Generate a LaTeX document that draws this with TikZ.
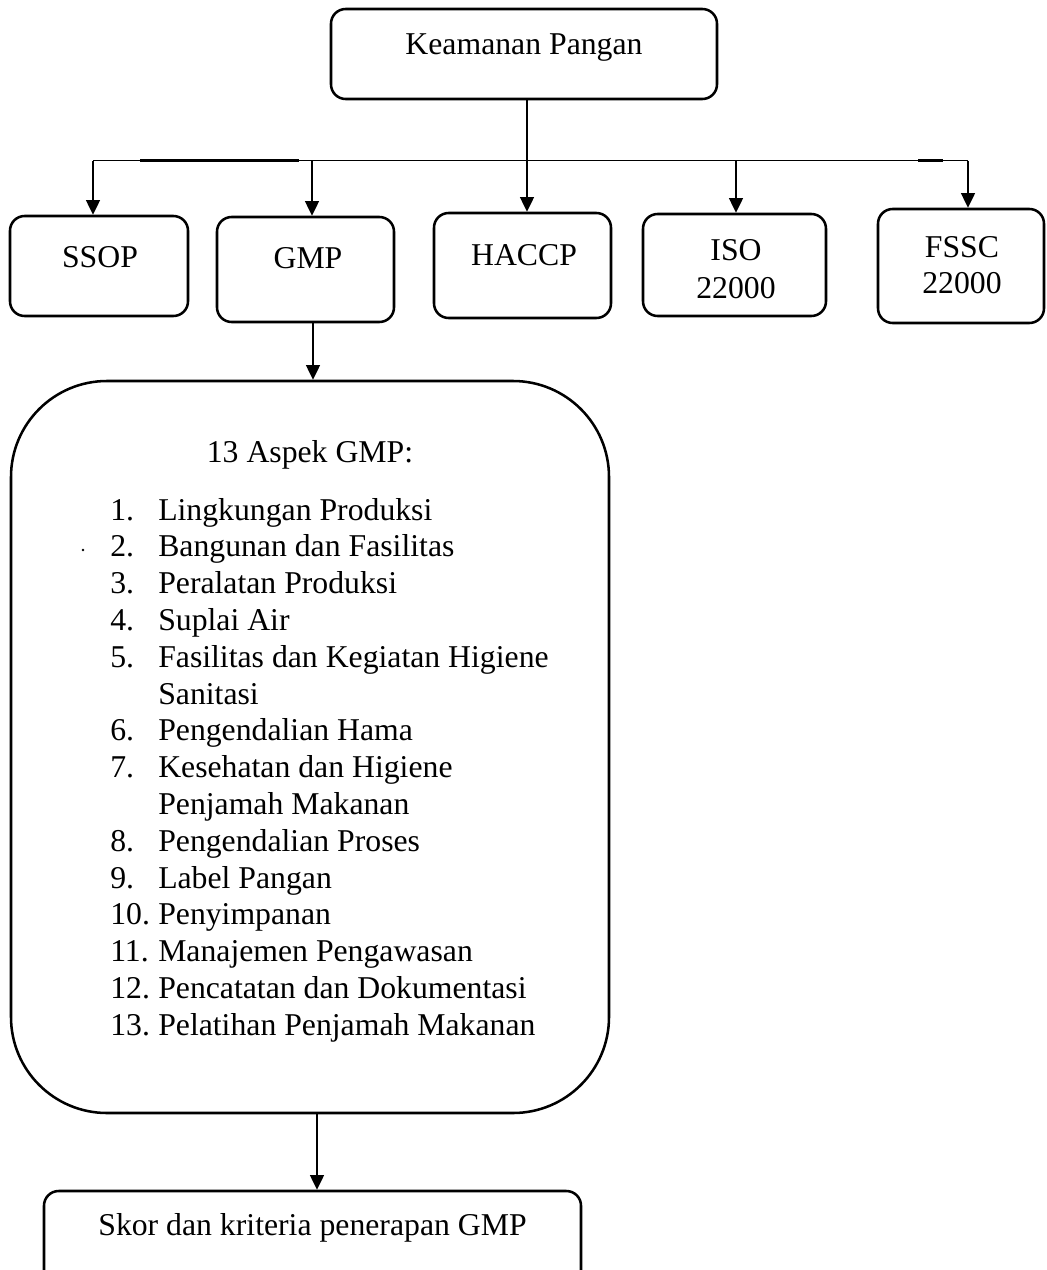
\documentclass[tikz,border=0pt]{standalone}
\usepackage{fontspec}
\setmainfont{Liberation Serif}
\usetikzlibrary{arrows.meta}
\begin{document}
\begin{tikzpicture}[x=0.75pt,y=-0.75pt,
  box/.style={draw, line width=1.9pt, rounded corners=11pt, inner sep=0pt},
  lbl/.style={inner sep=0pt, font=\fontsize{23.8}{26}\selectfont},
  conn/.style={line width=1.05pt},
  arr/.style={conn, -{Triangle[length=11pt,width=10.5pt]}}]
\useasboundingbox (0,0) rectangle (1046,1270);

% boxes
\node[box, minimum width=289.5pt, minimum height=67.5pt] (top) at (524,54) {};
\node[box, minimum width=133.5pt, minimum height=75pt] (ssop) at (99,266) {};
\node[box, minimum width=132.75pt, minimum height=78.75pt] (gmp) at (305.5,269.5) {};
\node[box, minimum width=132.75pt, minimum height=78.75pt] (haccp) at (522.5,265.5) {};
\node[box, minimum width=137.25pt, minimum height=76.5pt] (iso) at (734.5,265) {};
\node[box, minimum width=124.5pt, minimum height=85.5pt] (fssc) at (961,266) {};
\node[box, rounded corners=72pt, minimum width=448.5pt, minimum height=549pt] (big) at (310,747) {};
\node[box, minimum width=402.75pt, minimum height=81.75pt] (skor) at (312.5,1245.5) {};

% labels
\node[lbl, anchor=base] (tkp) at (524,55) {Keamanan Pangan};
\node[lbl, anchor=base] (tssop) at (100,267) {SSOP};
\node[lbl, anchor=base] (tgmp) at (308,268) {GMP};
\node[lbl, anchor=base] (thaccp) at (524,265) {HACCP};
\node[lbl, anchor=base] (tiso1) at (736,260) {ISO};
\node[lbl, anchor=base] (tiso2) at (736,298) {22000};
\node[lbl, anchor=base] (tfssc1) at (962,257) {FSSC};
\node[lbl, anchor=base] (tfssc2) at (962,293) {22000};
\node[lbl, anchor=base] (taspek) at (310,462) {13 Aspek GMP:};
\node[lbl, anchor=base] (tskor) at (312.5,1235) {Skor dan kriteria penerapan GMP};

\foreach \n/\t [count=\i] in {
  1./Lingkungan Produksi,
  2./Bangunan dan Fasilitas,
  3./Peralatan Produksi,
  4./Suplai Air,
  5./Fasilitas dan Kegiatan Higiene,
  {}/Sanitasi,
  6./Pengendalian Hama,
  7./Kesehatan dan Higiene,
  {}/Penjamah Makanan,
  8./Pengendalian Proses,
  9./Label Pangan,
  10./Penyimpanan,
  11./Manajemen Pengawasan,
  12./Pencatatan dan Dokumentasi,
  13./Pelatihan Penjamah Makanan}{
  \node[lbl, anchor=base west] (num\i) at (110,{520+36.8*(\i-1)}) {\n};
  \node[lbl, anchor=base west] (item\i) at (158,{520+36.8*(\i-1)}) {\t};
}
\fill (83,550) circle (1pt);

% bus
\coordinate (bA) at (93,160.5);
\coordinate (bB) at (312,160.5);
\coordinate (bC) at (527,160.5);
\coordinate (bD) at (736,160.5);
\coordinate (bE) at (968,160.5);
\draw[line width=1.3pt] (bA) -- (bE);
\draw[line width=2.1pt] (140,160.5) -- (299,160.5);
\draw[line width=2.1pt] (918,160.5) -- (943,160.5);
\draw[conn] (top.south -| bC) -- (bC);

\draw[arr] (bA) -- (bA |- ssop.north);
\draw[arr] (bB) -- (bB |- gmp.north);
\draw[arr] (bC) -- (bC |- haccp.north);
\draw[arr] (bD) -- (bD |- iso.north);
\draw[arr] (bE) -- (bE |- fssc.north);

\coordinate (g1) at (313,0);
\draw[arr] (gmp.south -| g1) -- (big.north -| g1);
\coordinate (g2) at (317,0);
\draw[arr] (big.south -| g2) -- (skor.north -| g2);
\end{tikzpicture}
\end{document}
